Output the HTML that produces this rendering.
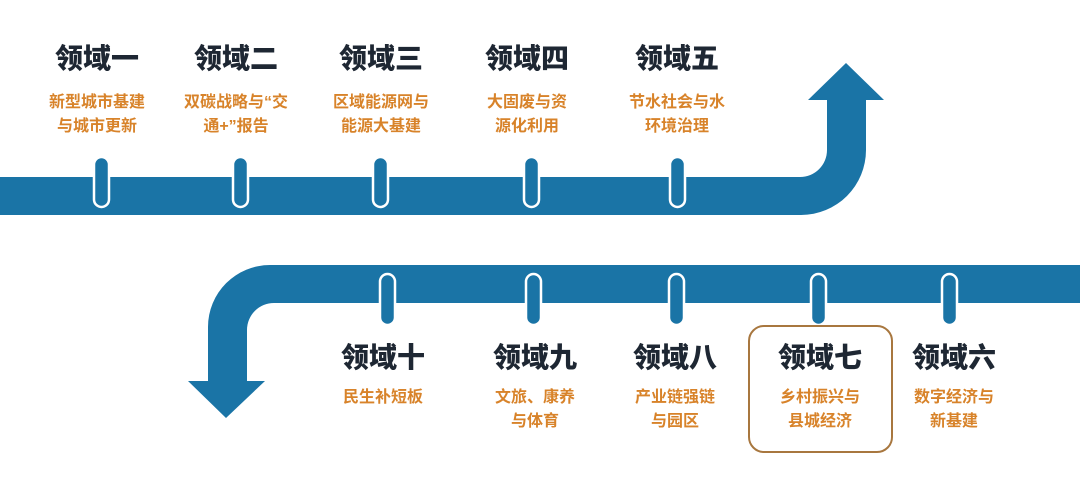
<!DOCTYPE html>
<html><head><meta charset="utf-8">
<style>
html,body{margin:0;padding:0;background:#fff;}
body{width:1080px;height:481px;position:relative;overflow:hidden;font-family:"Liberation Sans","Noto Sans CJK SC",sans-serif;}
.t{position:absolute;width:160px;text-align:center;font-weight:900;font-size:28px;color:#1e2733;line-height:30px;}
.s{position:absolute;width:160px;text-align:center;font-weight:bold;font-size:16px;color:#d8832a;line-height:24px;}
.box{position:absolute;left:748px;top:325px;width:145px;height:128px;border:2px solid #a8773f;border-radius:16px;box-sizing:border-box;}
</style></head><body>
<svg width="1080" height="481" style="position:absolute;left:0;top:0">
<g fill="#1a74a6">
<path d="M0,177 H800 A27,27 0 0 0 827,150 V100 H808 L846,63 L884,100 H866 V150 A65,65 0 0 1 801,215 H0 Z"/>
<path d="M1080,265 H270 A62,62 0 0 0 208,327 V381 H188 L226,418 L265,381 H247 V330 A27,27 0 0 1 274,303 H1080 Z"/>
</g>
<g fill="#1a74a6" stroke="#fff" stroke-width="2.5">
<rect x="94" y="157" width="15" height="50" rx="7.5"/>
<rect x="233" y="157" width="15" height="50" rx="7.5"/>
<rect x="373" y="157" width="15" height="50" rx="7.5"/>
<rect x="524" y="157" width="15" height="50" rx="7.5"/>
<rect x="670" y="157" width="15" height="50" rx="7.5"/>
<rect x="380" y="274" width="15" height="51" rx="7.5"/>
<rect x="526" y="274" width="15" height="51" rx="7.5"/>
<rect x="669" y="274" width="15" height="51" rx="7.5"/>
<rect x="811" y="274" width="15" height="51" rx="7.5"/>
<rect x="942" y="274" width="15" height="51" rx="7.5"/>
</g>
</svg>
<div class="box"></div>
<div class="t" style="left:17px;top:44px">领域一</div>
<div class="s" style="left:17px;top:91px">新型城市基建<br>与城市更新</div>
<div class="t" style="left:156px;top:44px">领域二</div>
<div class="s" style="left:156px;top:91px">双碳战略与“交<br>通+”报告</div>
<div class="t" style="left:301px;top:44px">领域三</div>
<div class="s" style="left:301px;top:91px">区域能源网与<br>能源大基建</div>
<div class="t" style="left:447px;top:44px">领域四</div>
<div class="s" style="left:447px;top:91px">大固废与资<br>源化利用</div>
<div class="t" style="left:597px;top:44px">领域五</div>
<div class="s" style="left:597px;top:91px">节水社会与水<br>环境治理</div>
<div class="t" style="left:303px;top:343px">领域十</div>
<div class="s" style="left:303px;top:386px">民生补短板</div>
<div class="t" style="left:455px;top:343px">领域九</div>
<div class="s" style="left:455px;top:386px">文旅、康养<br>与体育</div>
<div class="t" style="left:595px;top:343px">领域八</div>
<div class="s" style="left:595px;top:386px">产业链强链<br>与园区</div>
<div class="t" style="left:740px;top:343px">领域七</div>
<div class="s" style="left:740px;top:386px">乡村振兴与<br>县城经济</div>
<div class="t" style="left:874px;top:343px">领域六</div>
<div class="s" style="left:874px;top:386px">数字经济与<br>新基建</div>
</body></html>
